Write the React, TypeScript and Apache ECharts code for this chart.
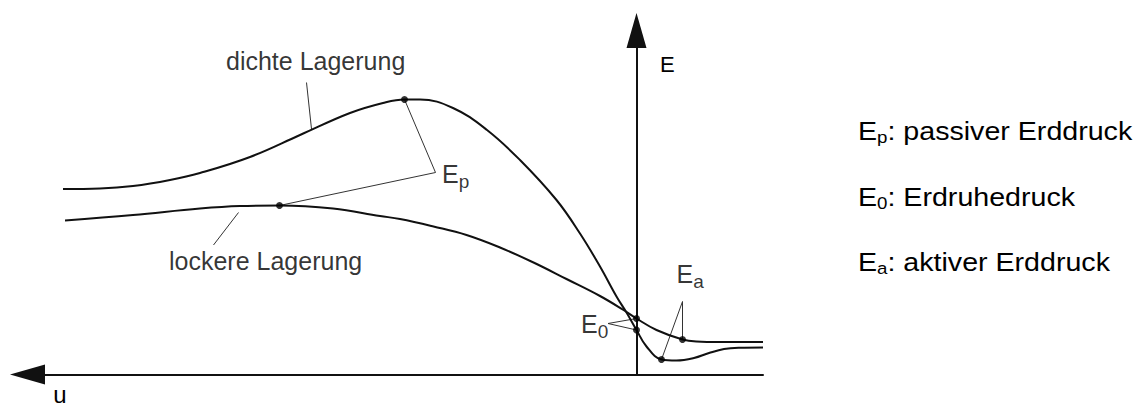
import React, { useEffect, useRef } from "react";
import * as echarts from "echarts";

// u (displacement, increasing to the left) vs E (earth pressure), arbitrary units
const denseCurve: number[][] = [
  [11.47, 3.71], [10.73, 3.72], [10.07, 3.77], [9.33, 3.89], [8.73, 4.03], [7.73, 4.35],
  [6.73, 4.79], [5.73, 5.23], [5.07, 5.43], [4.64, 5.5], [4.33, 5.5], [3.67, 5.33],
  [2.99, 4.89], [2.33, 4.29], [1.6, 3.49], [1.13, 2.82], [0.73, 2.16], [0.4, 1.56],
  [0.2, 1.24], [0, 0.89], [-0.2, 0.56], [-0.5, 0.3], [-0.8, 0.28], [-1.15, 0.33],
  [-1.45, 0.43], [-1.75, 0.51], [-2.05, 0.535], [-2.53, 0.54],
];
const looseCurve: number[][] = [
  [11.43, 3.08], [10.07, 3.19], [8.73, 3.32], [7.93, 3.37], [7.14, 3.38], [6.07, 3.32],
  [5.13, 3.17], [4.73, 3.11], [4.06, 2.96], [3.4, 2.79], [2.73, 2.54], [2.06, 2.24],
  [1.4, 1.91], [0.73, 1.57], [0.26, 1.29], [0, 1.12], [-0.4, 0.89], [-0.92, 0.7],
  [-1.2, 0.66], [-1.67, 0.65], [-2.53, 0.65],
];
const markedPoints: number[][] = [
  [4.64, 5.5], [7.14, 3.38], [0, 0.89], [0, 1.12], [-0.5, 0.3], [-0.92, 0.7],
];
const leaderEp: number[][] = [[4.64, 5.5], [4.02, 4.04], [7.14, 3.38]];
const leaderE0: number[][] = [[0, 1.12], [0.57, 1.02], [0, 0.89]];
const leaderEa: number[][] = [[-0.92, 0.7], [-0.92, 1.46], [-0.5, 0.3]];
const leaderDense: number[][] = [[6.6, 5.84], [6.5, 4.91]];
const leaderLoose: number[][] = [[7.96, 3.24], [8.46, 2.59]];

const labelPoints = [
  { value: [3.9, 3.97], text: "{m|E}{s|p}" },
  { value: [1.12, 0.97], text: "{m|E}{s|0}" },
  { value: [-0.79, 1.97], text: "{m|E}{s|a}" },
  { value: [8.22, 6.23], text: "{m|dichte Lagerung}" },
  { value: [9.36, 2.23], text: "{m|lockere Lagerung}" },
];
const legendLines: string[][] = [
  ["E", "p", ": passiver Erddruck"],
  ["E", "0", ": Erdruhedruck"],
  ["E", "a", ": aktiver Erddruck"],
];
const yAxisName = "E";
const xAxisName = "u";

const FONT = "'Liberation Sans', Arial, Helvetica, sans-serif";
const INK = "#000";

export default function App() {
  const ref = useRef<HTMLDivElement>(null);
  useEffect(() => {
    const chart = echarts.init(ref.current!, null, { renderer: "svg" });
    const labelRich = {
      m: { fontSize: 25, lineHeight: 30, verticalAlign: "top", fontFamily: FONT, color: INK },
      s: { fontSize: 19, lineHeight: 19, verticalAlign: "bottom", fontFamily: FONT, color: INK },
    };
    const legendRich = {
      m: { fontSize: 26, lineHeight: 28, verticalAlign: "top", fontFamily: FONT, fill: INK, color: INK },
      s: { fontSize: 17, lineHeight: 17, verticalAlign: "bottom", fontFamily: FONT, fill: INK, color: INK },
    };
    const leader = (data: number[][]) => ({
      type: "line",
      data,
      showSymbol: false,
      symbol: "none",
      silent: true,
      z: 1,
      lineStyle: { color: "#333", width: 1 },
    });
    const legendTops = [118, 183.5, 249];
    chart.setOption({
      animation: false,
      backgroundColor: "#fff",
      grid: { left: 27.5, right: 384, top: 30.5, bottom: 31.5, containLabel: false },
      xAxis: {
        type: "value",
        inverse: true,
        min: -2.53,
        max: 12.18,
        axisLine: {
          show: true,
          onZero: true,
          symbol: ["triangle", "none"],
          symbolSize: [20, 35],
          lineStyle: { color: "#111", width: 2 },
        },
        axisTick: { show: false },
        axisLabel: { show: false },
        splitLine: { show: false },
      },
      yAxis: {
        type: "value",
        min: 0,
        max: 6.88,
        axisLine: {
          show: true,
          onZero: true,
          symbol: ["none", "triangle"],
          symbolSize: [20, 35],
          lineStyle: { color: "#111", width: 2 },
        },
        axisTick: { show: false },
        axisLabel: { show: false },
        splitLine: { show: false },
      },
      series: [
        {
          type: "line",
          name: "dichte Lagerung",
          data: denseCurve,
          smooth: 0.4,
          showSymbol: false,
          symbol: "none",
          z: 2,
          lineStyle: { color: "#111", width: 2 },
        },
        {
          type: "line",
          name: "lockere Lagerung",
          data: looseCurve,
          smooth: 0.4,
          showSymbol: false,
          symbol: "none",
          z: 2,
          lineStyle: { color: "#111", width: 2 },
        },
        leader(leaderEp),
        leader(leaderE0),
        leader(leaderEa),
        leader(leaderDense),
        leader(leaderLoose),
        {
          type: "scatter",
          data: markedPoints,
          symbol: "circle",
          symbolSize: 7,
          z: 4,
          itemStyle: { color: "#000" },
          silent: true,
        },
        {
          type: "scatter",
          silent: true,
          symbolSize: 1,
          z: 5,
          itemStyle: { color: "rgba(0,0,0,0)" },
          data: labelPoints.map((p) => ({
            value: p.value,
            label: { formatter: p.text },
          })),
          label: {
            show: true,
            position: "right",
            distance: 0,
            color: INK,
            fontFamily: FONT,
            rich: labelRich,
          },
        },
      ],
      graphic: [
        {
          type: "text",
          x: 660,
          y: 64,
          silent: true,
          style: {
            text: yAxisName,
            font: `22px ${FONT}`,
            fill: INK,
            verticalAlign: "middle",
            textVerticalAlign: "middle",
          },
        },
        {
          type: "text",
          x: 53.3,
          y: 394,
          silent: true,
          style: {
            text: xAxisName,
            font: `24px ${FONT}`,
            fill: INK,
            verticalAlign: "middle",
            textVerticalAlign: "middle",
          },
        },
        {
          type: "group",
          x: 858,
          y: 0,
          scaleX: 1.1,
          children: legendLines.map((l, i) => ({
            type: "text",
            x: 0,
            y: legendTops[i],
            silent: true,
            style: {
              text: `{m|${l[0]}}{s|${l[1]}}{m|${l[2]}}`,
              rich: legendRich,
              fill: INK,
              font: `26px ${FONT}`,
              verticalAlign: "top",
              textVerticalAlign: "top",
            },
          })),
        },
      ],
    });
    return () => chart.dispose();
  }, []);
  return (
    <div
      ref={ref}
      style={{ position: "fixed", left: 0, top: 0, width: 1147, height: 406, background: "#fff" }}
    />
  );
}
